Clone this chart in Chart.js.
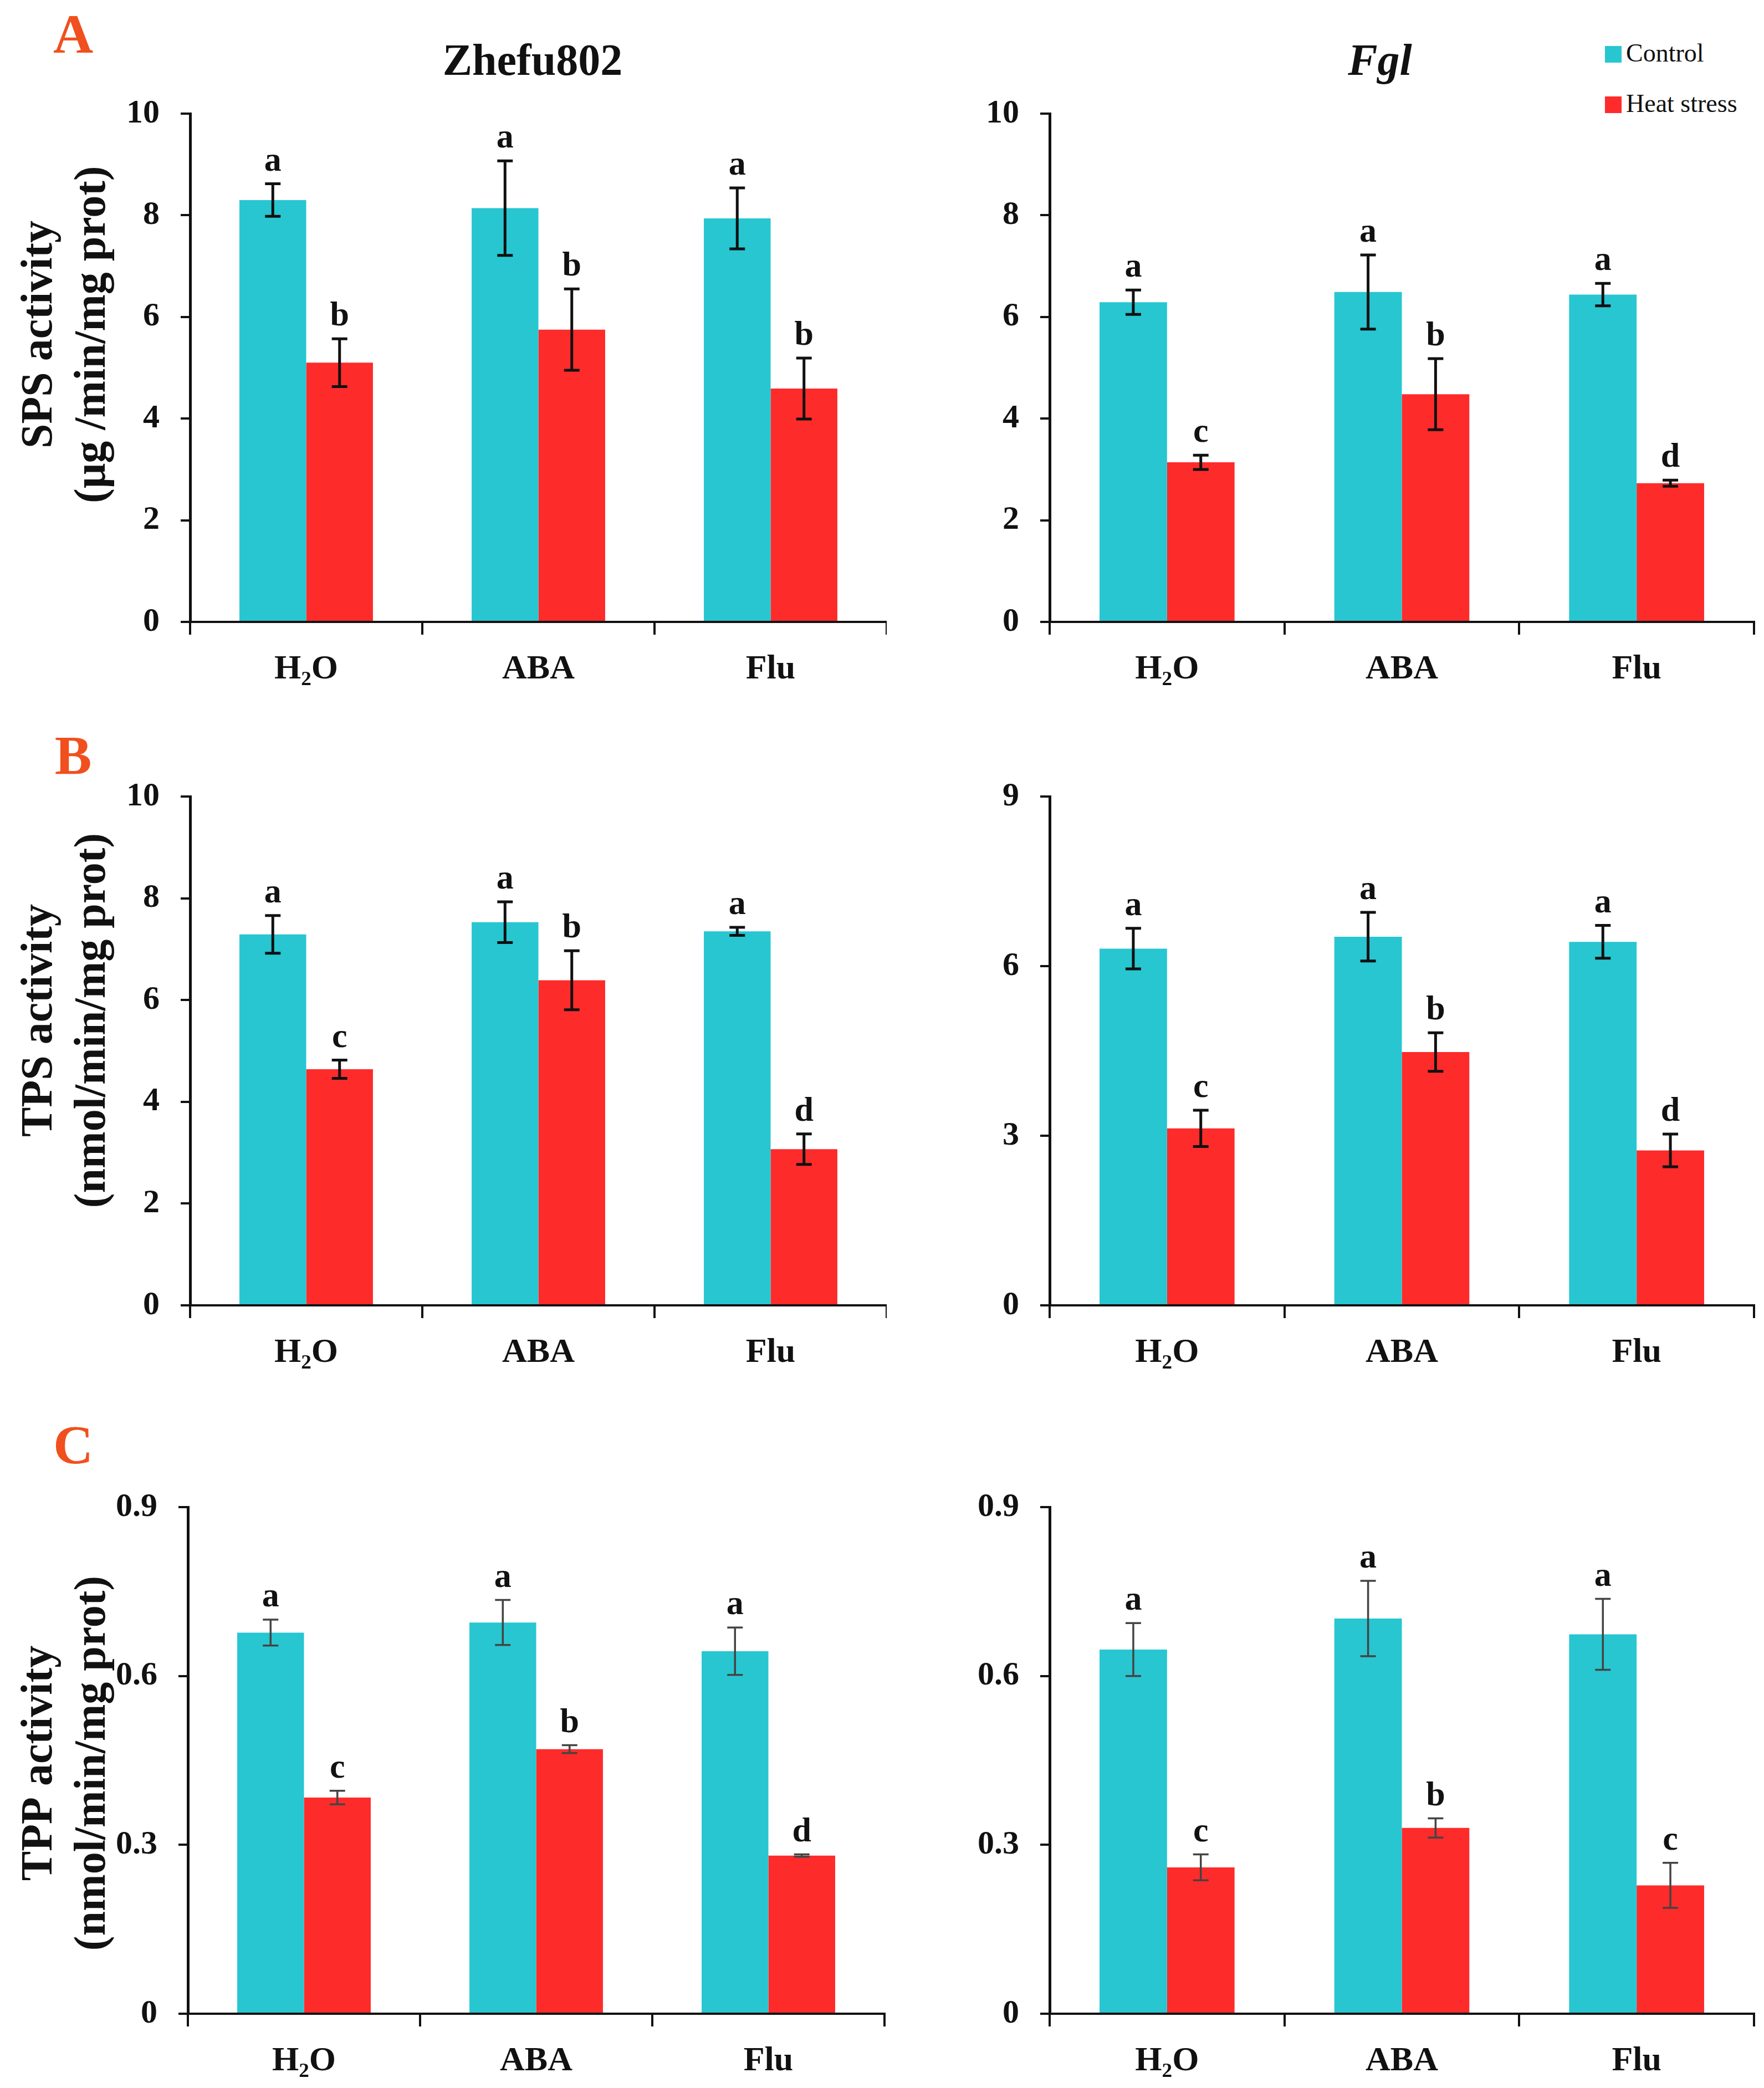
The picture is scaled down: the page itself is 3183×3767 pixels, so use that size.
<!DOCTYPE html>
<html>
<head>
<meta charset="utf-8">
<script src="https://cdn.jsdelivr.net/npm/chart.js@4.4.1/dist/chart.umd.min.js"></script>
<style>
  body { margin: 0; background: #fff; }
  #page { position: relative; width: 3183px; height: 3767px; font-family: "Liberation Serif", "Times New Roman", serif; color: #111; overflow: hidden; }
  canvas { position: absolute; }
  .lbl { position: absolute; transform: translate(-50%, -50%); font-weight: bold; white-space: nowrap; line-height: 1; }
  .panel { color: #f0501e; font-size: 100px; }
  .head { font-size: 80px; }
  .leg { position: absolute; font-size: 46px; line-height: 1; white-space: nowrap; transform: translateY(-50%); }
  .leg span { display: inline-block; width: 30px; height: 30px; margin-right: 8px; vertical-align: -2px; }
</style>
</head>
<body>
<div id="page">
  <div class="lbl panel" style="left:132px; top:62px;">A</div>
  <div class="lbl panel" style="left:132px; top:1363px;">B</div>
  <div class="lbl panel" style="left:132px; top:2607px;">C</div>
  <div class="lbl head" style="left:961px; top:108px;">Zhefu802</div>
  <div class="lbl head" style="left:2490px; top:108px; font-style:italic;">Fgl</div>
  <div class="leg" style="left:2896px; top:96px;"><span style="background:#27c6d1"></span>Control</div>
  <div class="leg" style="left:2896px; top:187px;"><span style="background:#fe2b2b"></span>Heat stress</div>
</div>
<script>
const categories = ["H\u2082O", "ABA", "Flu"];
const seriesNames = ["Control", "Heat stress"];

// SPS activity, Zhefu802
const spsZhefuControl = [8.30, 8.14, 7.94];
const spsZhefuControlErr = [0.32, 0.93, 0.60];
const spsZhefuControlSig = ["a", "a", "a"];
const spsZhefuHeat = [5.10, 5.75, 4.59];
const spsZhefuHeatErr = [0.47, 0.80, 0.60];
const spsZhefuHeatSig = ["b", "b", "b"];

// SPS activity, Fgl
const spsFglControl = [6.29, 6.49, 6.44];
const spsFglControlErr = [0.24, 0.73, 0.22];
const spsFglControlSig = ["a", "a", "a"];
const spsFglHeat = [3.14, 4.48, 2.73];
const spsFglHeatErr = [0.14, 0.70, 0.06];
const spsFglHeatSig = ["c", "b", "d"];

// TPS activity, Zhefu802
const tpsZhefuControl = [7.29, 7.53, 7.35];
const tpsZhefuControlErr = [0.37, 0.40, 0.08];
const tpsZhefuControlSig = ["a", "a", "a"];
const tpsZhefuHeat = [4.64, 6.39, 3.07];
const tpsZhefuHeatErr = [0.18, 0.58, 0.30];
const tpsZhefuHeatSig = ["c", "b", "d"];

// TPS activity, Fgl
const tpsFglControl = [6.31, 6.52, 6.43];
const tpsFglControlErr = [0.36, 0.43, 0.29];
const tpsFglControlSig = ["a", "a", "a"];
const tpsFglHeat = [3.13, 4.48, 2.74];
const tpsFglHeatErr = [0.32, 0.34, 0.29];
const tpsFglHeatSig = ["c", "b", "d"];

// TPP activity, Zhefu802
const tppZhefuControl = [0.677, 0.695, 0.644];
const tppZhefuControlErr = [0.023, 0.040, 0.042];
const tppZhefuControlSig = ["a", "a", "a"];
const tppZhefuHeat = [0.384, 0.470, 0.281];
const tppZhefuHeatErr = [0.012, 0.007, 0.002];
const tppZhefuHeatSig = ["c", "b", "d"];

// TPP activity, Fgl
const tppFglControl = [0.647, 0.702, 0.674];
const tppFglControlErr = [0.047, 0.067, 0.063];
const tppFglControlSig = ["a", "a", "a"];
const tppFglHeat = [0.260, 0.330, 0.228];
const tppFglHeatErr = [0.023, 0.017, 0.040];
const tppFglHeatSig = ["c", "b", "c"];

const FONT = "'Liberation Serif', 'Times New Roman', serif";
const CYAN = "#27c6d1";
const RED = "#fe2b2b";

// error bars + significance letters
const errorBars = {
  id: "errorBars",
  afterDatasetsDraw(chart, args, opts) {
    const ctx = chart.ctx;
    const y = chart.scales.y;
    chart.data.datasets.forEach((ds, di) => {
      const meta = chart.getDatasetMeta(di);
      meta.data.forEach((bar, i) => {
        const v = ds.data[i], e = ds.errors[i];
        const yt = y.getPixelForValue(v + e);
        const yb = y.getPixelForValue(v - e);
        const cap = 14;
        ctx.save();
        ctx.strokeStyle = opts.color;
        ctx.lineWidth = opts.width;
        ctx.beginPath();
        ctx.moveTo(bar.x, yt); ctx.lineTo(bar.x, yb);
        ctx.moveTo(bar.x - cap, yt); ctx.lineTo(bar.x + cap, yt);
        ctx.moveTo(bar.x - cap, yb); ctx.lineTo(bar.x + cap, yb);
        ctx.stroke();
        ctx.fillStyle = "#111";
        ctx.font = "bold 62px " + FONT;
        ctx.textAlign = "center";
        ctx.textBaseline = "alphabetic";
        ctx.fillText(ds.letters[i], bar.x, yt - 24);
        ctx.restore();
      });
    });
  }
};

// two-line rotated y title, drawn left of the axis
const sideTitle = {
  id: "sideTitle",
  afterDraw(chart, args, opts) {
    if (!opts.lines) return;
    const ctx = chart.ctx;
    const a = chart.chartArea;
    const cy = (a.top + a.bottom) / 2 + opts.shift;
    ctx.save();
    ctx.fillStyle = "#111";
    ctx.font = "bold 80px " + FONT;
    ctx.textAlign = "center";
    ctx.textBaseline = "middle";
    opts.lines.forEach((t, i) => {
      ctx.save();
      ctx.translate(opts.x[i], cy);
      ctx.rotate(-Math.PI / 2);
      ctx.fillText(t, 0, 0);
      ctx.restore();
    });
    ctx.restore();
  }
};

const panels = [
  { left: 0, top: 191, zero: 1122, width: 1600, axisW: 343, padR: 0, max: 10, step: 2,
    title: ["SPS activity", "(\u03bcg /min/mg prot)"], titleShift: -60, err: { color: "#111", width: 5 },
    ctrl: [spsZhefuControl, spsZhefuControlErr, spsZhefuControlSig], heat: [spsZhefuHeat, spsZhefuHeatErr, spsZhefuHeatSig] },
  { left: 1600, top: 191, zero: 1122, width: 1583, axisW: 294, padR: 18, max: 10, step: 2,
    title: null, err: { color: "#111", width: 5 },
    ctrl: [spsFglControl, spsFglControlErr, spsFglControlSig], heat: [spsFglHeat, spsFglHeatErr, spsFglHeatSig] },
  { left: 0, top: 1423, zero: 2355, width: 1600, axisW: 343, padR: 0, max: 10, step: 2,
    title: ["TPS activity", "(nmol/min/mg prot)"], titleShift: -55, err: { color: "#111", width: 5 },
    ctrl: [tpsZhefuControl, tpsZhefuControlErr, tpsZhefuControlSig], heat: [tpsZhefuHeat, tpsZhefuHeatErr, tpsZhefuHeatSig] },
  { left: 1600, top: 1423, zero: 2355, width: 1583, axisW: 294, padR: 18, max: 9, step: 3,
    title: null, err: { color: "#111", width: 5 },
    ctrl: [tpsFglControl, tpsFglControlErr, tpsFglControlSig], heat: [tpsFglHeat, tpsFglHeatErr, tpsFglHeatSig] },
  { left: 0, top: 2705, zero: 3633, width: 1600, axisW: 339, padR: 4, max: 0.9, step: 0.3,
    title: ["TPP activity", "(nmol/min/mg prot)"], titleShift: 5, err: { color: "#444", width: 3.5 },
    ctrl: [tppZhefuControl, tppZhefuControlErr, tppZhefuControlSig], heat: [tppZhefuHeat, tppZhefuHeatErr, tppZhefuHeatSig] },
  { left: 1600, top: 2705, zero: 3633, width: 1583, axisW: 294, padR: 18, max: 0.9, step: 0.3,
    title: null, err: { color: "#444", width: 3.5 },
    ctrl: [tppFglControl, tppFglControlErr, tppFglControlSig], heat: [tppFglHeat, tppFglHeatErr, tppFglHeatSig] },
];

const PAD_TOP = 60, X_H = 130;
const page = document.getElementById("page");

panels.forEach((p) => {
  const canvas = document.createElement("canvas");
  canvas.width = p.width;
  canvas.height = PAD_TOP + (p.zero - p.top) + X_H;
  canvas.style.left = p.left + "px";
  canvas.style.top = (p.top - PAD_TOP) + "px";
  page.appendChild(canvas);

  new Chart(canvas.getContext("2d"), {
    type: "bar",
    data: {
      labels: categories,
      datasets: [
        { label: seriesNames[0], data: p.ctrl[0], errors: p.ctrl[1], letters: p.ctrl[2],
          backgroundColor: CYAN, borderWidth: 0, categoryPercentage: 0.575, barPercentage: 1 },
        { label: seriesNames[1], data: p.heat[0], errors: p.heat[1], letters: p.heat[2],
          backgroundColor: RED, borderWidth: 0, categoryPercentage: 0.575, barPercentage: 1 },
      ],
    },
    options: {
      responsive: false,
      animation: false,
      devicePixelRatio: 1,
      layout: { padding: { top: PAD_TOP, right: p.padR, left: 0, bottom: 0 } },
      plugins: {
        legend: { display: false },
        tooltip: { enabled: false },
        errorBars: p.err,
        sideTitle: { lines: p.title, x: [72, 168], shift: p.titleShift || 0 },
      },
      scales: {
        x: {
          z: 1,
          afterFit: (s) => { s.height = X_H; },
          border: { display: true, color: "#111", width: 4 },
          grid: { offset: true, drawOnChartArea: false, drawTicks: true, tickLength: 23, color: "#111", lineWidth: 4 },
          ticks: { color: "#111", padding: 26, font: { family: FONT, size: 62, weight: "bold" } },
        },
        y: {
          z: 1,
          min: 0,
          max: p.max,
          afterFit: (s) => { s.width = p.axisW; },
          border: { display: true, color: "#111", width: 5 },
          grid: { drawOnChartArea: false, drawTicks: true, tickLength: 17, color: "#111", lineWidth: 4 },
          ticks: {
            stepSize: p.step,
            color: "#111",
            padding: 38,
            font: { family: FONT, size: 60, weight: "bold" },
            callback: (v) => String(Number(v.toFixed(2))),
          },
        },
      },
    },
    plugins: [errorBars, sideTitle],
  });
});
</script>
</body>
</html>
